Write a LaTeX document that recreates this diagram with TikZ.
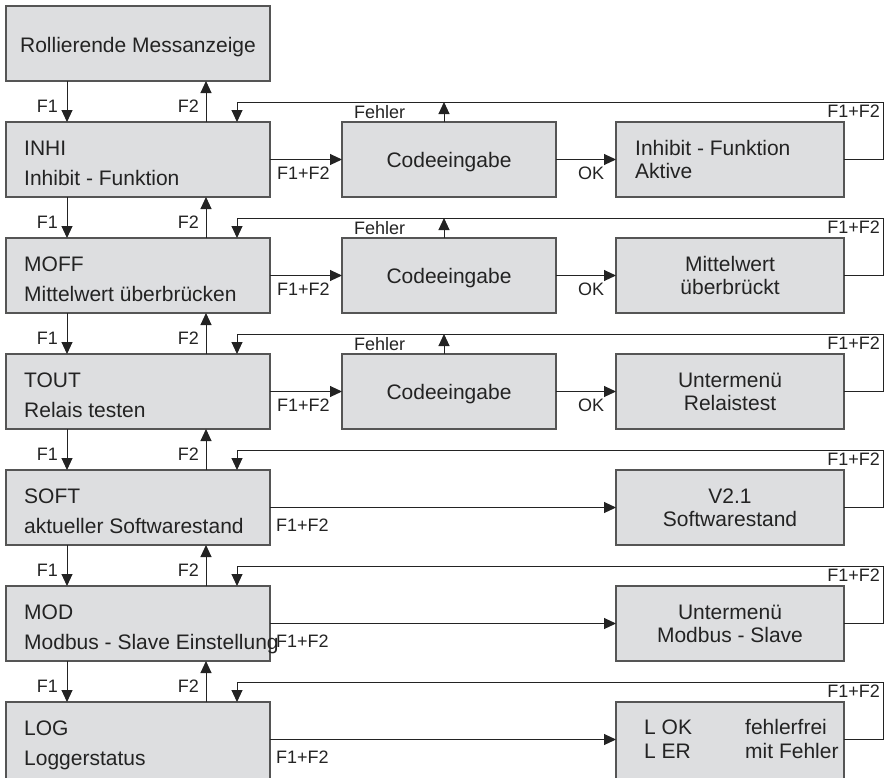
\documentclass[tikz,border=0pt]{standalone}
\usepackage{fontspec}
\setmainfont{Liberation Sans}
\usetikzlibrary{arrows.meta,calc}
\definecolor{boxfill}{RGB}{221,222,224}
\definecolor{boxline}{RGB}{85,85,85}
\definecolor{ink}{RGB}{35,35,35}
\begin{document}
\begin{tikzpicture}[x=1pt,y=-1pt,
  boxstyle/.style={draw=boxline, fill=boxfill, line width=1.1pt, inner sep=0pt, outer sep=0pt, anchor=north west},
  txt/.style={font=\fontsize{21}{25}\selectfont, text=ink, inner sep=0pt},
  lbl/.style={font=\fontsize{18}{22}\selectfont, text=ink, inner sep=0pt},
  arr/.style={draw=ink, line width=1pt, -{Triangle[length=12pt,width=11pt]}},
  ln/.style={draw=ink, line width=1pt}]
\useasboundingbox (0,0) rectangle (885,777);
\clip (0,0) rectangle (885,777);
\coordinate (R) at (883,0);
% top box
\node[boxstyle, minimum width=264pt, minimum height=75pt] (top) at (6,6) {};
\node[txt, anchor=base] (topT) at (138,52) {Rollierende Messanzeige};
% left boxes
\foreach \n/\t/\h/\a/\b in {inhi/122/75/INHI/Inhibit - Funktion, moff/238/75/MOFF/Mittelwert überbrücken, tout/354/75/TOUT/Relais testen, soft/470/75/SOFT/aktueller Softwarestand, mod/586/75/MOD/Modbus - Slave Einstellung, log/702/90/LOG/Loggerstatus}{
  \node[boxstyle, minimum width=264pt, minimum height=\h pt] (\n) at (6,\t) {};
  \node[txt, anchor=base west] (\n A) at (24,\t+33) {\a};
  \node[txt, anchor=base west] (\n B) at (24,\t+63) {\b};
  \node[boxstyle, minimum width=228pt, minimum height=\h pt] (r\n) at (616,\t) {};
  \coordinate (m\n) at (0,\t+37.5);
  \node[lbl, anchor=base east] (\n F1) at (58,\t-10) {F1};
  \node[lbl, anchor=base east] (\n F2) at (199,\t-10) {F2};
  \node[lbl, anchor=base east] (\n FF) at (880,\t-5) {F1+F2};
  % loop back
  \draw[arr] (r\n.east |- m\n) -- (R |- m\n) |- ($(\n.north west)+(231,-20)$) -- ($(\n.north west)+(231,0)$);
}
% vertical F1/F2 arrows
\foreach \u/\d in {top/inhi, inhi/moff, moff/tout, tout/soft, soft/mod, mod/log}{
  \draw[arr] ($(\u.south west)+(61,0)$) -- ($(\d.north west)+(61,0)$);
  \draw[arr] ($(\d.north west)+(200,0)$) -- ($(\u.south west)+(200,0)$);
}
% Codeeingabe rows
\foreach \n/\t in {inhi/122, moff/238, tout/354}{
  \node[boxstyle, minimum width=214pt, minimum height=75pt] (c\n) at (342,\t) {};
  \node[txt, anchor=base] (c\n T) at (449,\t+45) {Codeeingabe};
  \draw[arr] (\n.east) -- (c\n.west);
  \draw[arr] (c\n.east) -- (r\n.west);
  \draw[arr] ($(c\n.north)+(-5,0)$) -- ($(c\n.north)+(-5,-20)$);
  \node[lbl, anchor=base west] (\n FFb) at (277,\t+57) {F1+F2};
  \node[lbl, anchor=base west] (\n OK) at (578,\t+57) {OK};
  \node[lbl, anchor=base west] (\n Fe) at (354,\t-4) {Fehler};
}
% direct rows
\foreach \n/\t in {soft/470, mod/586, log/702}{
  \draw[arr] (\n.east |- m\n) -- (r\n.west |- m\n);
  \node[lbl, anchor=base west] (\n FFb) at (276,\t+61) {F1+F2};
}
% right box texts
\node[txt, anchor=base west] (ri1) at (635,155) {Inhibit - Funktion};
\node[txt, anchor=base west] (ri2) at (635,178) {Aktive};
\node[txt, anchor=base] (rm1) at (730,271) {Mittelwert};
\node[txt, anchor=base] (rm2) at (730,294) {überbrückt};
\node[txt, anchor=base] (rt1) at (730,387) {Untermenü};
\node[txt, anchor=base] (rt2) at (730,410) {Relaistest};
\node[txt, anchor=base] (rs1) at (730,503) {V2.1};
\node[txt, anchor=base] (rs2) at (730,526) {Softwarestand};
\node[txt, anchor=base] (rd1) at (730,619) {Untermenü};
\node[txt, anchor=base] (rd2) at (730,642) {Modbus - Slave};
\node[txt, anchor=base west] (rl1) at (644,734) {L OK};
\node[txt, anchor=base west] (rl2) at (745,734) {fehlerfrei};
\node[txt, anchor=base west] (rl3) at (644,758) {L ER};
\node[txt, anchor=base west] (rl4) at (745,758) {mit Fehler};
\end{tikzpicture}
\end{document}
